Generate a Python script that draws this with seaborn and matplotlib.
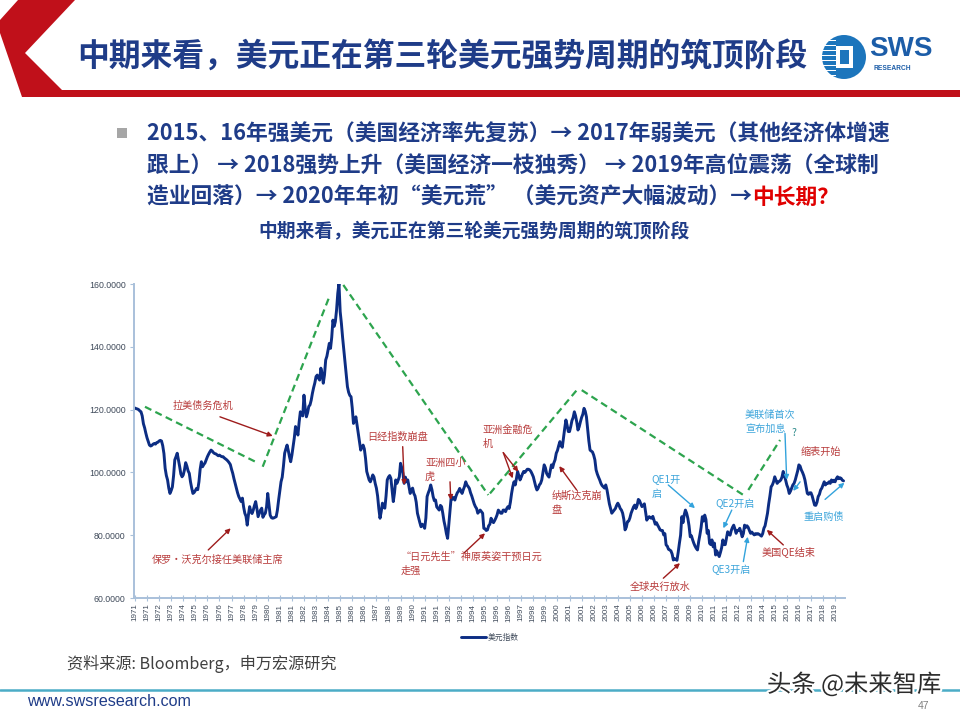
import numpy as np
import pandas as pd
import matplotlib
matplotlib.use("Agg")
import matplotlib.pyplot as plt
import matplotlib.patches as mpatches
import matplotlib.patheffects as pe
import seaborn as sns

sns.set_theme(style="white")
plt.rcParams['font.family'] = ['Noto Sans CJK SC', 'DejaVu Sans']

# ---------------- data: US dollar index, monthly, 1971-01 .. 2019-12 ----------------
dxy_1970s = [
    120.5, 120.3, 120.2, 120.0, 119.6, 119.3, 118.0, 115.5, 114.2, 112.5, 111.0, 109.8,  # 1971
    108.7, 108.4, 108.6, 109.0, 109.2, 109.0, 109.5, 109.6, 110.0, 110.2, 110.0, 108.5,  # 1972
    106.0, 101.3, 99.0, 97.6, 95.0, 93.3, 94.2, 95.4, 99.0, 104.0, 105.0, 106.1,          # 1973
    104.0, 101.9, 99.5, 98.6, 99.2, 100.8, 103.1, 102.0, 100.5, 99.7, 97.0, 95.0,         # 1974
    93.3, 93.6, 94.2, 94.9, 94.5, 97.0, 101.0, 103.4, 101.8, 102.5, 103.0, 104.0,         # 1975
    105.0, 105.8, 106.5, 107.1, 106.8, 106.3, 106.0, 105.9, 105.6, 105.3, 105.5, 105.2,   # 1976
    105.0, 105.0, 104.6, 104.3, 104.0, 103.6, 103.1, 102.5, 101.0, 99.7, 98.0, 96.5,      # 1977
    94.9, 93.5, 92.3, 91.5, 90.7, 91.8, 89.0, 87.0, 86.0, 83.2, 86.5, 89.1,               # 1978
    87.5, 86.9, 88.0, 89.5, 90.7, 88.5, 85.9, 87.0, 88.0, 88.6, 85.7, 86.5,               # 1979
]
dxy_1980s = [
    87.0, 89.0, 93.3, 90.0, 86.4, 85.6, 85.4, 85.5, 85.7, 85.9, 88.0, 91.2,               # 1980
    94.0, 97.0, 98.5, 102.0, 106.1, 107.5, 108.7, 107.0, 105.0, 103.4, 105.5, 108.2,      # 1981
    111.0, 114.6, 113.5, 111.9, 116.0, 119.3, 118.5, 118.0, 124.6, 120.5, 117.7, 119.0,   # 1982
    121.0, 121.5, 123.0, 125.2, 127.0, 128.5, 130.5, 131.0, 130.0, 129.4, 133.2, 131.5,   # 1983
    128.4, 131.0, 135.8, 137.0, 139.0, 141.1, 139.5, 143.0, 148.5, 146.5, 148.0, 151.7,   # 1984
    157.0, 160.2, 151.2, 147.5, 143.0, 139.0, 134.7, 131.0, 127.3, 125.5, 124.5, 124.1,   # 1985
    120.5, 115.6, 116.5, 117.7, 115.0, 112.4, 109.5, 107.1, 108.0, 108.7, 107.5, 104.5,   # 1986
    100.3, 99.0, 97.6, 97.0, 98.0, 99.2, 98.5, 96.5, 95.0, 92.5, 88.5, 85.4,              # 1987
    87.5, 90.2, 89.0, 88.6, 92.5, 97.6, 98.5, 99.0, 98.1, 94.5, 90.7, 93.5,               # 1988
    97.6, 96.5, 97.5, 98.6, 102.9, 101.5, 99.7, 96.5, 98.5, 97.0, 97.6, 95.5,             # 1989
]
dxy_1990s = [
    93.3, 94.5, 95.0, 93.3, 92.5, 90.5, 87.0, 85.5, 84.0, 82.7, 83.5, 83.0,               # 1990
    82.2, 85.5, 92.3, 93.5, 94.5, 96.0, 94.5, 92.3, 91.0, 91.2, 89.0, 88.5,               # 1991
    88.0, 89.5, 89.1, 87.0, 84.5, 82.7, 80.5, 79.0, 83.5, 88.0, 92.3, 91.5,               # 1992
    92.0, 91.2, 92.5, 93.5, 94.0, 94.9, 94.0, 93.3, 94.5, 95.5, 97.0, 96.0,               # 1993
    95.5, 94.9, 93.5, 92.5, 91.2, 90.0, 89.1, 88.5, 87.0, 87.5, 88.0, 87.5,               # 1994
    87.0, 82.2, 82.0, 81.5, 81.7, 83.0, 83.5, 85.4, 84.5, 84.0, 84.7, 85.5,               # 1995
    86.5, 88.0, 87.5, 87.0, 87.0, 88.0, 88.0, 87.5, 88.5, 89.1, 88.5, 90.5,               # 1996
    93.3, 95.5, 97.0, 96.0, 98.0, 100.3, 99.0, 97.6, 98.5, 99.5, 100.3, 100.0,            # 1997
    100.5, 101.0, 101.0, 100.8, 100.3, 99.5, 98.6, 97.0, 95.5, 94.4, 95.0, 96.0,          # 1998
    96.5, 97.6, 100.0, 102.4, 101.5, 99.7, 99.0, 98.5, 100.5, 102.4, 101.5, 103.0,        # 1999
]
dxy_2000s = [
    104.0, 106.1, 107.0, 108.5, 109.8, 108.5, 108.0, 111.0, 114.0, 116.7, 115.0, 113.0,   # 2000
    113.0, 114.6, 116.5, 117.5, 119.3, 118.0, 116.0, 113.5, 114.5, 116.1, 117.5, 118.5,   # 2001
    120.4, 119.5, 117.7, 114.0, 110.0, 107.1, 106.8, 106.5, 105.5, 104.0, 100.8, 99.5,    # 2002
    98.5, 97.6, 96.5, 95.8, 95.4, 95.0, 96.0, 94.5, 92.3, 90.0, 88.5, 87.0,               # 2003
    87.5, 88.0, 88.5, 89.5, 90.2, 89.5, 88.5, 88.0, 87.0, 85.0, 81.7, 82.5,               # 2004
    84.3, 84.5, 85.5, 87.0, 88.0, 89.0, 89.6, 88.5, 89.5, 91.4, 91.0, 90.0,               # 2005
    89.1, 89.5, 90.0, 87.5, 84.8, 85.5, 85.9, 85.5, 85.4, 86.0, 84.8, 83.5,               # 2006
    84.0, 83.2, 82.5, 81.7, 81.5, 81.5, 80.1, 80.5, 76.9, 76.5, 75.5, 75.3,               # 2007
    75.0, 74.0, 72.1, 72.5, 72.3, 72.0, 74.5, 77.4, 80.0, 85.9, 84.0, 86.5,               # 2008
    88.0, 87.0, 85.4, 83.0, 79.5, 79.8, 78.5, 77.4, 76.5, 75.8, 75.3, 78.0,               # 2009
]
dxy_2010s = [
    80.1, 82.5, 85.9, 84.5, 86.4, 85.0, 80.6, 81.5, 77.4, 77.0, 78.5, 76.3,               # 2010
    77.5, 73.7, 75.0, 74.0, 73.2, 74.5, 76.0, 78.5, 77.0, 77.0, 79.0, 81.1,               # 2011
    80.5, 80.0, 81.5, 82.5, 83.2, 82.0, 80.6, 81.5, 81.5, 82.2, 81.0, 79.5,               # 2012
    80.5, 83.2, 82.5, 83.0, 82.5, 81.5, 80.6, 81.0, 80.5, 80.1, 80.5, 80.3,               # 2013
    80.5, 80.3, 80.0, 79.7, 80.5, 82.2, 83.0, 85.0, 87.0, 90.0, 92.5, 95.4,               # 2014
    96.0, 97.0, 98.6, 97.5, 96.5, 97.0, 97.2, 97.6, 98.5, 100.3, 99.0, 97.6,              # 2015
    96.0, 95.0, 93.3, 94.0, 95.0, 96.0, 96.5, 97.6, 99.0, 100.5, 102.4, 102.0,            # 2016
    100.8, 100.0, 99.0, 97.6, 95.5, 93.3, 93.0, 93.5, 93.5, 92.5, 91.0, 89.6,             # 2017
    89.5, 90.5, 92.3, 93.0, 94.4, 95.0, 96.0, 97.0, 96.0, 96.5, 96.5, 97.0,               # 2018
    96.5, 97.6, 97.0, 97.5, 97.0, 98.0, 98.6, 98.0, 98.3, 98.1, 97.5, 97.3,               # 2019
]
dxy_values = dxy_1970s + dxy_1980s + dxy_1990s + dxy_2000s + dxy_2010s
series_name = "美元指数"

xtick_labels = [
    "1971", "1971", "1972", "1973", "1974", "1975",
    "1976", "1976", "1977", "1978", "1979", "1980",
    "1981", "1981", "1982", "1983", "1984", "1985",
    "1986", "1986", "1987", "1988", "1989", "1990",
    "1991", "1991", "1992", "1993", "1994", "1995",
    "1996", "1996", "1997", "1998", "1999", "2000",
    "2001", "2001", "2002", "2003", "2004", "2005",
    "2006", "2006", "2007", "2008", "2009", "2010",
    "2011", "2011", "2012", "2013", "2014", "2015",
    "2016", "2016", "2017", "2018", "2019",
]
ytick_values = [60, 80, 100, 120, 140, 160]
ytick_labels = ["60.0000", "80.0000", "100.0000", "120.0000", "140.0000", "160.0000"]

# cycle pivots (month index, index level) for the green dashed trend lines
cycle_segments = [
    ((8.3, 120.9), (101.3, 103.1)),
    ((105.8, 101.8), (161.6, 156.5)),
    ((172.6, 159.7), (292.7, 92.8)),
    ((294.1, 93.3), (367.3, 126.8)),
    ((370.1, 126.2), (504.0, 92.8)),
    ((508.1, 94.4), (534.4, 110.3)),
]

RED_T, RED_A = "#B83C3C", "#9E1C1C"
BLUE_T, BLUE_A = "#3DA5DB", "#33A3DC"
# event notes: lines, month index (left), level of first line, colour
event_notes = [
    (["拉美债务危机"], 31.5, 121.1, RED_T),
    (["保罗•沃克尔接任美联储主席"], 14.1, 72.1, RED_T),
    (["日经指数崩盘"], 192.2, 111.3, RED_T),
    (["亚洲四小", "虎"], 240.3, 103.1, RED_T),
    (["“日元先生”神原英姿干预日元", "走强"], 220.0, 73.1, RED_T),
    (["亚洲金融危", "机"], 288.1, 113.5, RED_T),
    (["纳斯达克崩", "盘"], 345.2, 92.5, RED_T),
    (["全球央行放水"], 410.1, 63.6, RED_T),
    (["QE1开", "启"], 428.1, 97.8, BLUE_T),
    (["QE2开启"], 480.5, 90.0, BLUE_T),
    (["QE3开启"], 477.8, 68.9, BLUE_T),
    (["美国QE结束"], 519.2, 74.7, RED_T),
    (["美联储首次", "宣布加息"], 505.4, 118.3, BLUE_T),
    (["缩表开始"], 551.0, 106.6, RED_T),
    (["重启购债"], 553.4, 85.8, BLUE_T),
]
event_arrows = [
    ((70.4, 117.7), (114.1, 111.6), RED_A),
    ((60.7, 75.3), (79.3, 82.2), RED_A),
    ((221.8, 108.2), (223.1, 96.0), RED_A),
    ((261.0, 97.0), (261.6, 91.2), RED_A),
    ((272.8, 74.4), (290.0, 80.6), RED_A),
    ((305.1, 106.3), (312.9, 98.1), RED_A),
    ((305.1, 106.3), (317.6, 100.2), RED_A),
    ((365.9, 94.4), (351.5, 102.0), RED_A),
    ((437.7, 66.3), (451.5, 71.1), RED_A),
    ((441.8, 96.0), (463.9, 88.6), BLUE_A),
    ((494.4, 88.0), (487.4, 82.2), BLUE_A),
    ((504.0, 71.6), (507.6, 79.5), BLUE_A),
    ((537.1, 76.9), (523.4, 81.7), RED_A),
    ((538.5, 112.4), (539.9, 97.6), BLUE_A),
    ((551.0, 97.0), (545.3, 94.1), BLUE_A),
    ((571.7, 91.4), (587.7, 96.7), BLUE_A),
]

# ---------------- figure ----------------
W, H = 960, 720
fig = plt.figure(figsize=(9.6, 7.2), dpi=100, facecolor="white")


def fx(x):
    return x / W


def fy(y):
    return 1 - y / H


NAVY_T = "#1F3C88"

# header red chevron + bar
red_shape = [(18, 0), (75, 0), (25, 53), (62, 90), (960, 90), (960, 97), (22, 97), (0, 33), (0, 20)]
fig.patches.append(mpatches.Polygon([(fx(a), fy(b)) for a, b in red_shape], closed=True,
                                     facecolor="#C0101A", edgecolor="none",
                                     transform=fig.transFigure))
fig.text(fx(77), fy(57), "中期来看，美元正在第三轮美元强势周期的筑顶阶段", fontsize=22.9,
         fontweight="bold", color=NAVY_T, ha="left", va="center")

# logo
fig.patches.append(mpatches.Ellipse((fx(844), fy(57)), 44 / W, 44 / H, facecolor="#1C75BC",
                                    edgecolor="none", transform=fig.transFigure))
for yy in range(40, 76, 5):
    fig.patches.append(mpatches.Rectangle((fx(820), fy(yy + 1.2)), 16 / W, 1.6 / H,
                                          facecolor="white", edgecolor="none",
                                          transform=fig.transFigure))
fig.patches.append(mpatches.Rectangle((fx(836), fy(68)), 17 / W, 22 / H, facecolor="white",
                                      edgecolor="none", transform=fig.transFigure))
fig.patches.append(mpatches.Rectangle((fx(840), fy(64)), 9 / W, 14 / H, facecolor="#1C75BC",
                                      edgecolor="none", transform=fig.transFigure))
fig.text(fx(869), fy(49), "SWS", fontsize=20, fontweight="bold", color="#1C5DA8",
         ha="left", va="center", family=["Liberation Sans", "DejaVu Sans"])
fig.text(fx(873), fy(69), "RESEARCH", fontsize=4.8, fontweight="bold", color="#1C5DA8",
         ha="left", va="center", family=["Liberation Sans", "DejaVu Sans"])

# bullet text
fig.patches.append(mpatches.Rectangle((fx(117), fy(138)), 10 / W, 10 / H, facecolor="#A6A6A6",
                                      edgecolor="none", transform=fig.transFigure))
b_lines = [
    "2015、16年强美元（美国经济率先复苏）→ 2017年弱美元（其他经济体增速",
    "跟上） → 2018强势上升（美国经济一枝独秀） → 2019年高位震荡（全球制",
    "造业回落）→ 2020年年初“美元荒” （美元资产大幅波动）→",
]
b_y = [134, 166, 197]
texts = []
for s, yy in zip(b_lines, b_y):
    texts.append(fig.text(fx(147), fy(yy), s, fontsize=15.7, fontweight="bold", color=NAVY_T,
                          ha="left", va="center"))
fig.canvas.draw()
rend = fig.canvas.get_renderer()
bb = texts[-1].get_window_extent(renderer=rend)
fig.text(bb.x1 / W, fy(197), "中长期？", fontsize=15.7, fontweight="bold", color="#E00000",
         ha="left", va="center")

# chart title
fig.text(fx(474), fy(232), "中期来看，美元正在第三轮美元强势周期的筑顶阶段", fontsize=13.5,
         fontweight="bold", color=NAVY_T, ha="center", va="center")

# ---------------- chart ----------------
ax = fig.add_axes([fx(134), fy(598), 711 / W, 314 / H])
df = pd.DataFrame({"pos": np.arange(len(dxy_values)), "value": dxy_values})
sns.lineplot(data=df, x="pos", y="value", ax=ax, color="#0C2D83", lw=2.1, label=series_name)

ax.set_xlim(-0.8, 588.2)
ax.set_ylim(60, 160)
ax.set_xlabel("")
ax.set_ylabel("")
ax.set_xticks(np.arange(len(xtick_labels)) * 10)
ax.set_xticklabels(xtick_labels, rotation=90, fontsize=5.8, color="#3F4A5A",
                   family=["Liberation Sans", "DejaVu Sans"])
ax.set_yticks(ytick_values)
ax.set_yticklabels(ytick_labels, fontsize=6.3, color="#3F4A5A",
                   family=["Liberation Sans", "DejaVu Sans"])
AXC = "#A9C0DA"
for side in ["top", "right"]:
    ax.spines[side].set_visible(False)
for side in ["left", "bottom"]:
    ax.spines[side].set_color(AXC)
    ax.spines[side].set_linewidth(1.4)
ax.tick_params(axis="x", direction="inout", length=4, width=0.8, color=AXC, pad=2, bottom=True)
ax.tick_params(axis="y", direction="out", length=3, width=0.8, color=AXC, pad=3, left=True)
ax.grid(False)

for (x0, y0), (x1, y1) in cycle_segments:
    ax.plot([x0, x1], [y0, y1], color="#2DA44E", lw=1.6, ls=(0, (3.2, 2.0)), zorder=3)

for lines, m, v, c in event_notes:
    for i, s in enumerate(lines):
        ax.text(m, v - i * 4.5, s, fontsize=7.3, color=c, ha="left", va="center", zorder=5)
ax.text(544, 112.4, "?", fontsize=7.5, color="#2E8B8B", ha="left", va="center", zorder=5)

for (x0, y0), (x1, y1), c in event_arrows:
    ax.annotate("", xy=(x1, y1), xytext=(x0, y0),
                arrowprops=dict(arrowstyle="-|>", color=c, lw=1.0, mutation_scale=7,
                                shrinkA=0, shrinkB=0), zorder=5)

leg = ax.legend(loc="center", bbox_to_anchor=(0.5, -0.127), frameon=False, fontsize=5.6,
                handlelength=3.2, handletextpad=0.2)
for t in leg.get_texts():
    t.set_color("#3F4A5A")

# ---------------- footer ----------------
fig.text(fx(67), fy(664), "资料来源: Bloomberg，申万宏源研究", fontsize=11.6, color="#404040",
         ha="left", va="center")
fig.add_artist(plt.Line2D([0, 1], [fy(690), fy(690)], color="#4BACC6", lw=1.8,
                          transform=fig.transFigure))
fig.text(fx(27), fy(701), "www.swsresearch.com", fontsize=11.6, color=NAVY_T, ha="left",
         va="center", family=["Liberation Sans Narrow", "Liberation Sans", "DejaVu Sans"])
fig.text(fx(918), fy(706), "47", fontsize=7.5, color="#808080", ha="left", va="center",
         family=["Liberation Sans", "DejaVu Sans"])
wm = fig.text(fx(854), fy(685), "头条 @未来智库", fontsize=17.5, color="#2B2B2B", ha="center",
              va="center")
wm.set_path_effects([pe.withStroke(linewidth=3, foreground="white")])

fig.savefig("out.png", dpi=100, facecolor="white")
